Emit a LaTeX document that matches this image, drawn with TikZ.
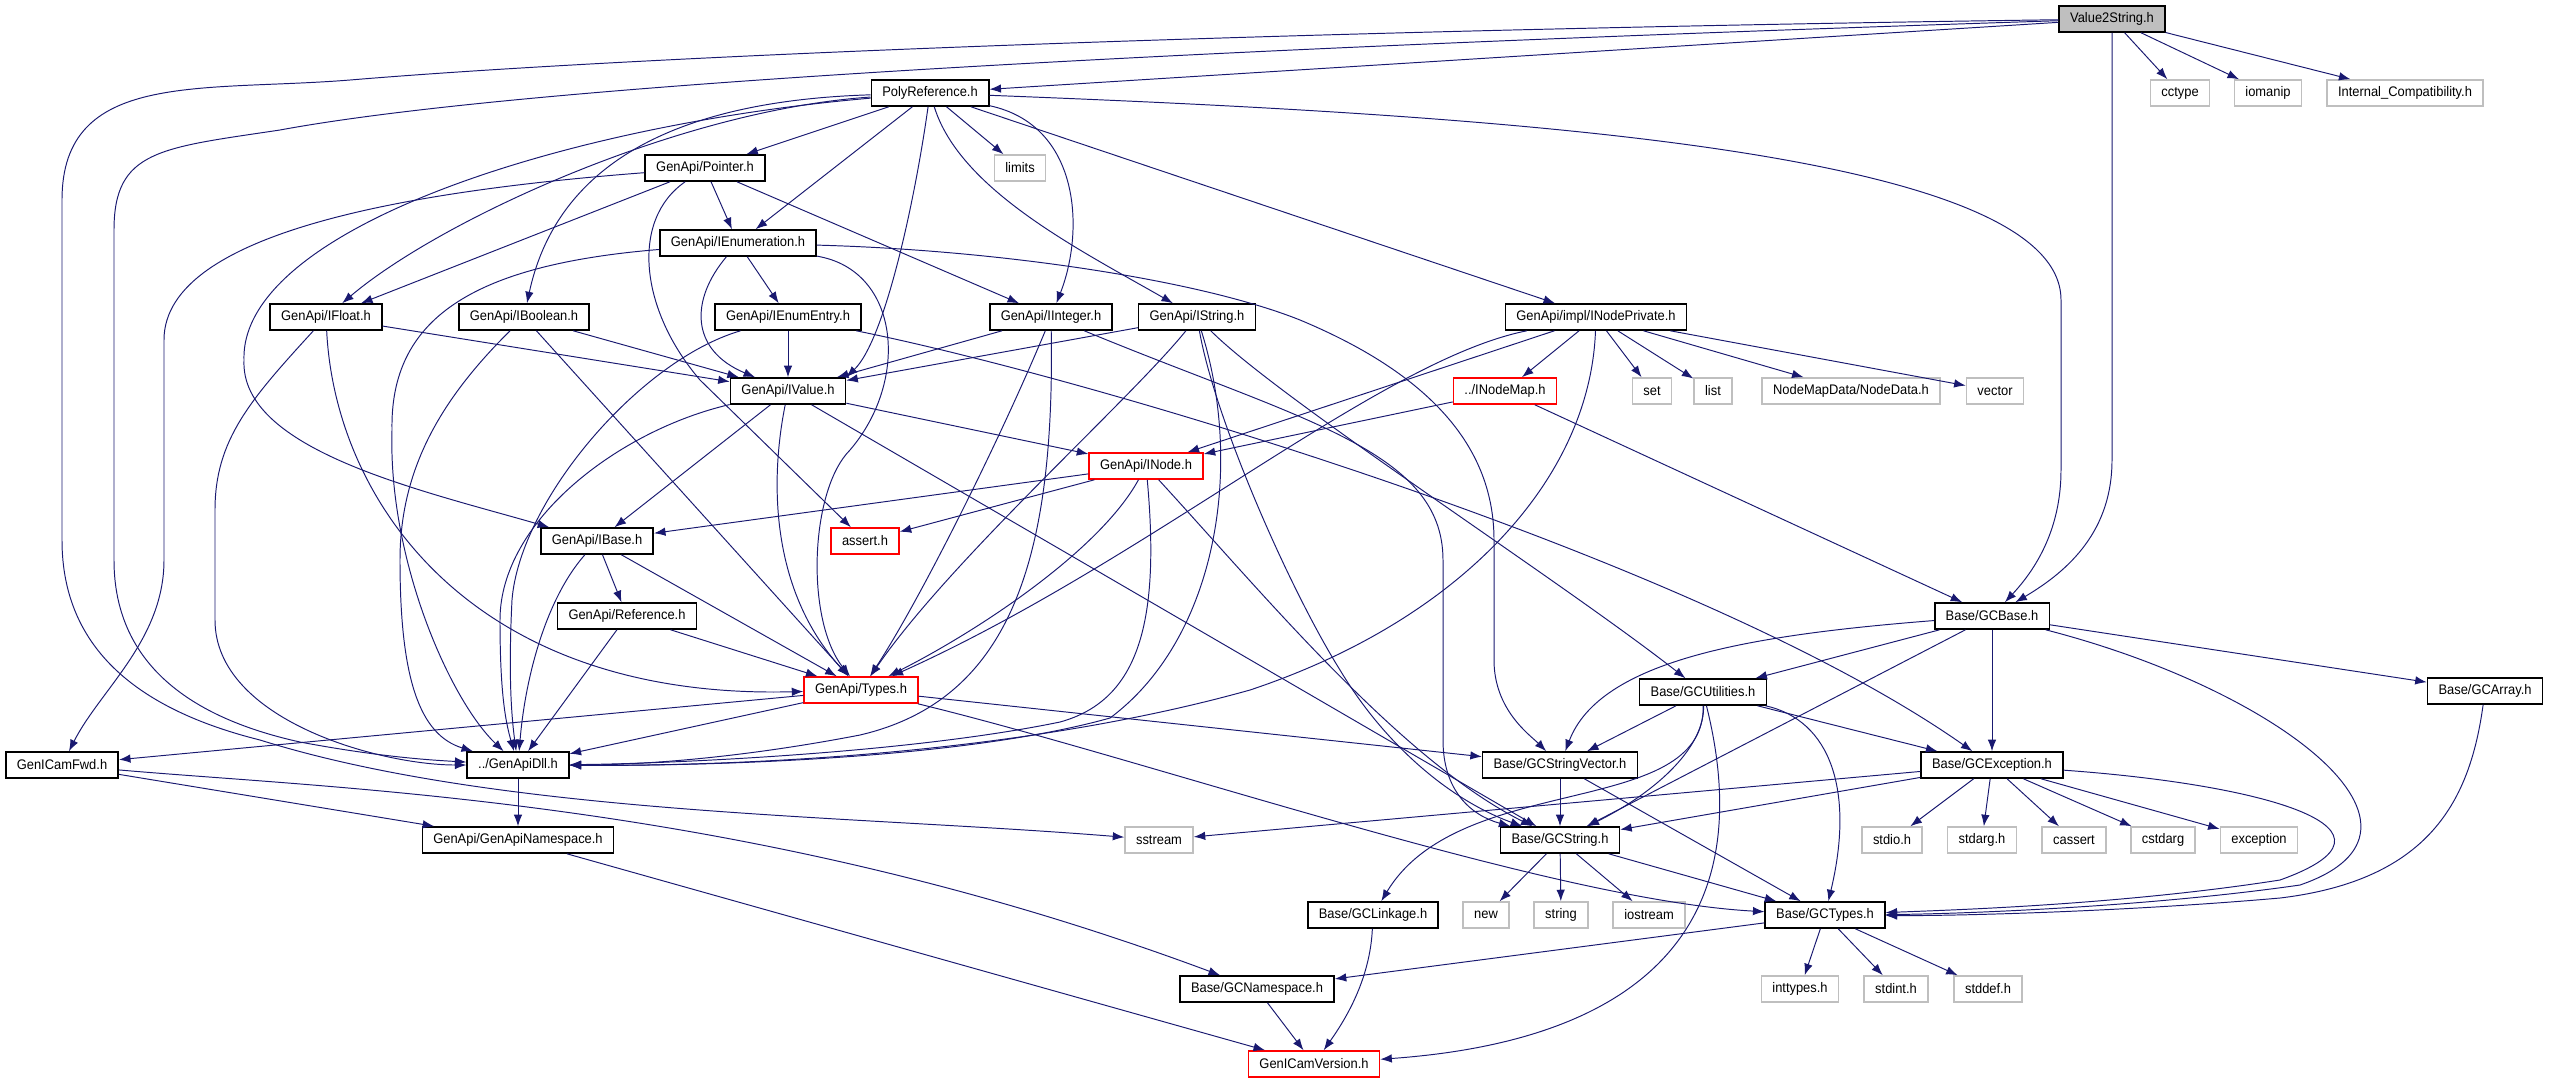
\documentclass[tikz,border=0pt]{standalone}
\usepackage{fontspec}
\setmainfont{Liberation Sans}[FakeStretch=0.93]
\usetikzlibrary{arrows.meta}
\definecolor{edgeblue}{HTML}{191970}
\newcommand\dotfont{\fontsize{7.9}{9}\selectfont}

\begin{document}
\begin{tikzpicture}[x=0.02cm,y=-0.02cm,
			hdr/.style={draw=black,fill=white,line width=0.9pt,minimum height=0.52cm,inner xsep=0.22cm,inner ysep=0pt,font=\dotfont},
			sysh/.style={hdr,draw=gray!50},
			missing/.style={hdr,draw=red},
			root/.style={hdr,fill=gray!50},
			dep/.style={draw=edgeblue,line width=0.55pt,-{Latex[length=0.23cm,width=0.17cm]}}]
			\useasboundingbox (0,0) rectangle (2549,1083);
			\node[root] (V) at (2112,19) {Value2String.h};
			\node[hdr] (P) at (930,93) {PolyReference.h};
			\node[sysh] (cctype) at (2180,93) {cctype};
			\node[sysh] (iomanip) at (2268,93) {iomanip};
			\node[sysh] (intcompat) at (2405,93) {Internal\_Compatibility.h};
			\node[hdr] (ptr) at (705,168) {GenApi/Pointer.h};
			\node[sysh] (limits) at (1020,168) {limits};
			\node[hdr] (ienum) at (738,243) {GenApi/IEnumeration.h};
			\node[hdr] (ifloat) at (326,317) {GenApi/IFloat.h};
			\node[hdr] (ibool) at (524,317) {GenApi/IBoolean.h};
			\node[hdr] (ientry) at (788,317) {GenApi/IEnumEntry.h};
			\node[hdr] (iint) at (1051,317) {GenApi/IInteger.h};
			\node[hdr] (istr) at (1197,317) {GenApi/IString.h};
			\node[hdr] (npriv) at (1596,317) {GenApi/impl/INodePrivate.h};
			\node[hdr] (ivalue) at (788,391) {GenApi/IValue.h};
			\node[missing] (nodemap) at (1505,391) {../INodeMap.h};
			\node[sysh] (set) at (1652,391) {set};
			\node[sysh] (list) at (1713,391) {list};
			\node[sysh] (nodedata) at (1851,391) {NodeMapData/NodeData.h};
			\node[sysh] (vector) at (1995,391) {vector};
			\node[missing] (inode) at (1146,466) {GenApi/INode.h};
			\node[hdr] (ibase) at (597,541) {GenApi/IBase.h};
			\node[missing] (assert) at (865,541) {assert.h};
			\node[hdr] (ref) at (627,616) {GenApi/Reference.h};
			\node[hdr] (gcbase) at (1992,616) {Base/GCBase.h};
			\node[missing] (types) at (861,690) {GenApi/Types.h};
			\node[hdr] (gcutil) at (1703,692) {Base/GCUtilities.h};
			\node[hdr] (gcarray) at (2485,691) {Base/GCArray.h};
			\node[hdr] (fwd) at (62,765) {GenICamFwd.h};
			\node[hdr] (dll) at (518,765) {../GenApiDll.h};
			\node[hdr] (strvec) at (1560,765) {Base/GCStringVector.h};
			\node[hdr] (gcexc) at (1992,765) {Base/GCException.h};
			\node[hdr] (nsgen) at (518,840) {GenApi/GenApiNamespace.h};
			\node[sysh] (sstream) at (1159,840) {sstream};
			\node[hdr] (gcstr) at (1560,840) {Base/GCString.h};
			\node[sysh] (stdio) at (1892,840) {stdio.h};
			\node[sysh] (stdarg) at (1982,840) {stdarg.h};
			\node[sysh] (cassert) at (2074,840) {cassert};
			\node[sysh] (cstdarg) at (2163,840) {cstdarg};
			\node[sysh] (exception) at (2259,840) {exception};
			\node[hdr] (linkage) at (1373,915) {Base/GCLinkage.h};
			\node[sysh] (new) at (1486,915) {new};
			\node[sysh] (string) at (1561,915) {string};
			\node[sysh] (iostream) at (1649,915) {iostream};
			\node[hdr] (gctypes) at (1825,915) {Base/GCTypes.h};
			\node[hdr] (nsgc) at (1257,989) {Base/GCNamespace.h};
			\node[sysh] (inttypes) at (1800,989) {inttypes.h};
			\node[sysh] (stdint) at (1896,989) {stdint.h};
			\node[sysh] (stddef) at (1988,989) {stddef.h};
			\node[missing] (version) at (1314,1064) {GenICamVersion.h};
			\draw[dep] (V) -- (P);
			\draw[dep] (V) .. controls (1300,30) and (650,55) .. (350,80) .. controls (200,92) and (62,70) .. (62,200) -- (62,540) .. controls (62,650) and (140,710) .. (260,740) .. controls (500,815) and (850,815) .. (sstream);
			\draw[dep] (V) .. controls (1300,45) and (550,80) .. (280,130) .. controls (160,148) and (114,150) .. (114,230) -- (114,560) .. controls (114,670) and (200,720) .. (300,742) .. controls (380,757) and (430,760) .. (dll);
			\draw[dep] (V) -- (2112,460) .. controls (2112,530) and (2070,570) .. (gcbase);
			\draw[dep] (V) -- (cctype);
			\draw[dep] (V) -- (iomanip);
			\draw[dep] (V) -- (intcompat);
			\draw[dep] (P) -- (ptr);
			\draw[dep] (P) -- (ienum);
			\draw[dep] (P) .. controls (680,110) and (440,220) .. (ifloat);
			\draw[dep] (P) .. controls (700,100) and (560,150) .. (ibool);
			\draw[dep] (P) .. controls (560,125) and (240,230) .. (244,360) .. controls (240,450) and (420,490) .. (ibase);
			\draw[dep] (P) .. controls (915,200) and (885,340) .. (ivalue.north east);
			\draw[dep] (P) .. controls (1080,125) and (1085,230) .. (iint);
			\draw[dep] (P) .. controls (960,190) and (1080,250) .. (istr);
			\draw[dep] (P) -- (limits);
			\draw[dep] (P) -- (npriv);
			\draw[dep] (P) .. controls (1500,115) and (2061,150) .. (2061,300) -- (2061,470) .. controls (2061,530) and (2035,570) .. (gcbase);
			\draw[dep] (ptr) .. controls (420,190) and (164,230) .. (164,340) -- (164,560) .. controls (164,640) and (100,690) .. (fwd);
			\draw[dep] (ptr) -- (ifloat);
			\draw[dep] (ptr) .. controls (630,220) and (640,310) .. (700,380) -- (assert);
			\draw[dep] (ptr) -- (ienum);
			\draw[dep] (ptr) -- (iint);
			\draw[dep] (ienum) .. controls (470,265) and (390,320) .. (392,430) .. controls (388,560) and (450,700) .. (dll);
			\draw[dep] (ienum) .. controls (690,300) and (690,350) .. (ivalue);
			\draw[dep] (ienum) -- (ientry);
			\draw[dep] (ienum) .. controls (900,270) and (910,380) .. (850,450) .. controls (810,490) and (805,620) .. (types);
			\draw[dep] (ienum) .. controls (1000,250) and (1200,280) .. (1300,320) .. controls (1420,370) and (1494,440) .. (1494,540) -- (1494,660) .. controls (1494,710) and (1530,735) .. (strvec);
			\draw[dep] (ifloat) -- (ivalue);
			\draw[dep] (ifloat) .. controls (335,500) and (470,700) .. (types);
			\draw[dep] (ifloat) .. controls (250,400) and (215,440) .. (215,510) -- (215,620) .. controls (215,720) and (380,765) .. (dll);
			\draw[dep] (ibool) -- (ivalue);
			\draw[dep] (ibool) -- (types);
			\draw[dep] (ibool) .. controls (440,400) and (400,470) .. (400,560) .. controls (400,680) and (420,735) .. (dll);
			\draw[dep] (ientry) -- (ivalue);
			\draw[dep] (ientry) .. controls (640,360) and (520,500) .. (512,600) .. controls (508,680) and (512,720) .. (dll);
			\draw[dep] (ientry) .. controls (1100,380) and (1700,560) .. (gcexc);
			\draw[dep] (iint) -- (ivalue);
			\draw[dep] (iint) .. controls (1000,440) and (920,600) .. (types);
			\draw[dep] (iint) .. controls (1055,560) and (1010,700) .. (860,735) .. controls (720,762) and (620,765) .. (dll);
			\draw[dep] (iint) .. controls (1300,420) and (1443,450) .. (1443,560) -- (1443,740) .. controls (1443,790) and (1470,815) .. (gcstr);
			\draw[dep] (istr) -- (ivalue);
			\draw[dep] (istr) .. controls (1130,400) and (950,560) .. (types);
			\draw[dep] (istr) .. controls (1245,470) and (1215,640) .. (1110,718) .. controls (960,760) and (700,766) .. (dll);
			\draw[dep] (istr) .. controls (1215,420) and (1290,590) .. (1340,670) .. controls (1385,745) and (1450,800) .. (gcstr);
			\draw[dep] (istr) .. controls (1280,400) and (1560,580) .. (gcutil);
			\draw[dep] (npriv) -- (inode);
			\draw[dep] (npriv) .. controls (1380,360) and (1150,560) .. (types);
			\draw[dep] (npriv) -- (nodemap);
			\draw[dep] (npriv) .. controls (1590,480) and (1460,620) .. (1250,690) .. controls (1000,760) and (700,766) .. (dll);
			\draw[dep] (npriv) -- (set);
			\draw[dep] (npriv) -- (list);
			\draw[dep] (npriv) -- (nodedata);
			\draw[dep] (npriv) -- (vector);
			\draw[dep] (nodemap) -- (inode);
			\draw[dep] (nodemap) -- (gcbase);
			\draw[dep] (ivalue) .. controls (620,430) and (500,520) .. (500,620) .. controls (500,690) and (505,720) .. (dll);
			\draw[dep] (ivalue) -- (ibase);
			\draw[dep] (ivalue) .. controls (770,480) and (770,590) .. (types);
			\draw[dep] (ivalue) -- (inode);
			\draw[dep] (ivalue) -- (gcstr);
			\draw[dep] (inode) -- (ibase);
			\draw[dep] (inode) -- (assert);
			\draw[dep] (inode) .. controls (1100,550) and (980,630) .. (types);
			\draw[dep] (inode) .. controls (1160,620) and (1140,700) .. (1060,722) .. controls (900,755) and (650,764) .. (dll);
			\draw[dep] (inode) .. controls (1260,590) and (1400,760) .. (gcstr);
			\draw[dep] (ibase) .. controls (545,600) and (525,680) .. (dll);
			\draw[dep] (ibase) -- (ref);
			\draw[dep] (ibase) -- (types);
			\draw[dep] (ref) -- (types);
			\draw[dep] (ref) -- (dll);
			\draw[dep] (types) -- (dll);
			\draw[dep] (types) -- (fwd);
			\draw[dep] (types) -- (strvec);
			\draw[dep] (types) .. controls (1150,760) and (1550,900) .. (gctypes);
			\draw[dep] (gcbase) .. controls (1750,635) and (1600,660) .. (strvec);
			\draw[dep] (gcbase) -- (gcutil);
			\draw[dep] (gcbase) -- (gcstr);
			\draw[dep] (gcbase) -- (gcexc);
			\draw[dep] (gcbase) -- (gcarray);
			\draw[dep] (gcbase) .. controls (2280,690) and (2460,830) .. (2300,885) .. controls (2140,908) and (1950,914) .. (gctypes);
			\draw[dep] (gcarray) .. controls (2470,800) and (2430,880) .. (2280,898) .. controls (2120,912) and (1950,916) .. (gctypes);
			\draw[dep] (gcutil) -- (strvec);
			\draw[dep] (gcutil) .. controls (1705,745) and (1660,790) .. (gcstr);
			\draw[dep] (gcutil) .. controls (1705,820) and (1460,770) .. (linkage);
			\draw[dep] (gcutil) -- (gcexc);
			\draw[dep] (gcutil) .. controls (1830,720) and (1855,790) .. (gctypes);
			\draw[dep] (gcutil) .. controls (1760,920) and (1650,1040) .. (version);
			\draw[dep] (gcexc) -- (sstream);
			\draw[dep] (gcexc) -- (gcstr);
			\draw[dep] (gcexc) -- (stdio);
			\draw[dep] (gcexc) -- (stdarg);
			\draw[dep] (gcexc) -- (cassert);
			\draw[dep] (gcexc) -- (cstdarg);
			\draw[dep] (gcexc) -- (exception);
			\draw[dep] (gcexc) .. controls (2270,785) and (2420,830) .. (2280,880) .. controls (2120,905) and (1950,910) .. (gctypes);
			\draw[dep] (strvec) -- (gcstr);
			\draw[dep] (strvec) -- (gctypes);
			\draw[dep] (gcstr) -- (new);
			\draw[dep] (gcstr) -- (string);
			\draw[dep] (gcstr) -- (iostream);
			\draw[dep] (gcstr) -- (gctypes);
			\draw[dep] (gctypes) -- (nsgc);
			\draw[dep] (gctypes) -- (inttypes);
			\draw[dep] (gctypes) -- (stdint);
			\draw[dep] (gctypes) -- (stddef);
			\draw[dep] (linkage) .. controls (1370,980) and (1345,1020) .. (version);
			\draw[dep] (nsgc) -- (version);
			\draw[dep] (nsgen) -- (version);
			\draw[dep] (dll) -- (nsgen);
			\draw[dep] (fwd) -- (nsgen);
			\draw[dep] (fwd) .. controls (350,790) and (750,800) .. (nsgc);
		\end{tikzpicture}
\end{document}
